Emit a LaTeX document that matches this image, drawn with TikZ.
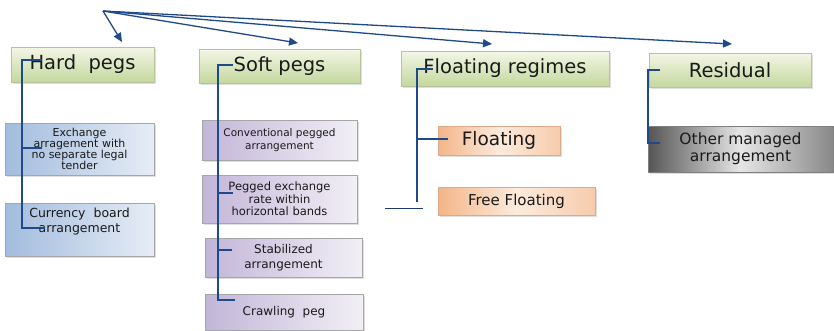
\documentclass[tikz,border=0pt]{standalone}
\usepackage{fontspec}
\setmainfont{DejaVu Sans}
\usetikzlibrary{arrows.meta,shadows}
\definecolor{lineblue}{HTML}{1F4A8A}
\definecolor{gL}{HTML}{F3F6E6}
\definecolor{gD}{HTML}{C4D89E}
\definecolor{gB}{HTML}{B7C39D}
\definecolor{bL}{HTML}{E6EDF6}
\definecolor{bD}{HTML}{A3BCDD}
\definecolor{pL}{HTML}{F2EFF6}
\definecolor{pD}{HTML}{C2B6D8}
\definecolor{oL}{HTML}{FDEBDD}
\definecolor{oD}{HTML}{F3B588}
\definecolor{kL}{HTML}{E6E6E6}
\definecolor{kD}{HTML}{555555}
\definecolor{txt}{HTML}{1A1A1A}
\tikzset{
  box/.style={rectangle, inner sep=0pt, align=center, text=txt,
    drop shadow={shadow xshift=1.5pt, shadow yshift=-1.5pt, opacity=0.25, fill=gray}},
  greenbox/.style={box, draw=gB, top color=gL, bottom color=gD, font=\fontsize{19.5}{22}\selectfont},
  bluebox/.style={box, draw=gray!70, left color=bD, right color=bL},
  purplebox/.style={box, draw=gray!70, left color=pD, right color=pL},
  orangebox/.style={box, draw=oD!80!gray, left color=oD, right color=oD!70, middle color=oL},
  graybox/.style={box, draw=gray, left color=kD, right color=kD!70, middle color=kL},
  conn/.style={draw=lineblue, line width=1.8pt},
  arr/.style={draw=lineblue, line width=1.3pt, -{Triangle[length=9pt,width=8pt]}},
}
\begin{document}
\begin{tikzpicture}[x=1pt,y=-1pt]
\useasboundingbox (0,0) rectangle (834,330);
% level 1
\node[greenbox, minimum width=143pt, minimum height=35pt] (hard) at (82.5,64.5) {Hard\ \ pegs};
\node[greenbox, minimum width=161pt, minimum height=34pt] (soft) at (279.5,66) {Soft pegs};
\node[greenbox, minimum width=208pt, minimum height=35pt] (floatreg) at (505,68.5) {Floating regimes};
\node[greenbox, minimum width=162pt, minimum height=34pt] (resid) at (730,70) {Residual};
% hard pegs children
\node[bluebox, minimum width=149pt, minimum height=52pt, font=\fontsize{11}{11}\selectfont] (exch) at (79.5,149) {Exchange\\arragement with\\no separate legal\\tender};
\node[bluebox, minimum width=149pt, minimum height=53pt, font=\fontsize{12.5}{15}\selectfont] (curr) at (79.5,230) {Currency\ \ board\\arrangement\\[4pt]};
% soft pegs children
\node[purplebox, minimum width=155pt, minimum height=40pt, font=\fontsize{10.5}{13}\selectfont] (conv) at (279.5,140) {Conventional pegged\\arrangement};
\node[purplebox, minimum width=155pt, minimum height=48pt, font=\fontsize{11.5}{12.5}\selectfont] (pegged) at (279.5,199) {Pegged exchange\\rate within\\horizontal bands};
\node[purplebox, minimum width=157pt, minimum height=39pt, font=\fontsize{12}{14.5}\selectfont] (stab) at (283.5,257.5) {Stabilized\\arrangement};
\node[purplebox, minimum width=158pt, minimum height=36pt, font=\fontsize{12}{14}\selectfont] (crawl) at (284,312) {Crawling\ \ peg};
% floating children
\node[orangebox, minimum width=122pt, minimum height=29pt, font=\fontsize{18.5}{21}\selectfont] (floating) at (499,140.5) {Floating};
\node[orangebox, minimum width=157pt, minimum height=28pt, font=\fontsize{15}{17}\selectfont] (free) at (516.5,201) {Free Floating};
% residual child
\node[graybox, minimum width=185pt, minimum height=46pt, font=\fontsize{15.5}{17}\selectfont] (other) at (740.5,149) {Other managed\\arrangement};
% arrows from the top
\coordinate (src) at (103,11);
\coordinate (tHard) at (122,42);
\coordinate (tSoft) at (298,43);
\coordinate (tFloat) at (492,44);
\coordinate (tResid) at (732,44);
\draw[arr] (src) -- (tHard);
\draw[arr] (src) -- (tSoft);
\draw[arr] (src) -- (tFloat);
\draw[arr] (src) -- (tResid);
% hard pegs bracket
\coordinate (h0) at (42,60);
\coordinate (h1) at (42,148);
\coordinate (h2) at (45,228);
\draw[conn] (h0) -- (22,60) -- (22,228) -- (h2);
\draw[conn] (22,148) -- (h1);
% soft pegs bracket
\coordinate (s0) at (233,65);
\coordinate (s1) at (233,193);
\coordinate (s2) at (232,250);
\coordinate (s3) at (235,300);
\draw[conn] (s0) -- (218,65) -- (218,300) -- (s3);
\draw[conn] (218,193) -- (s1);
\draw[conn] (218,250) -- (s2);
% floating regimes bracket
\coordinate (f0) at (433,69);
\coordinate (f1) at (448,139);
\coordinate (f2) at (417,202);
\draw[conn] (f0) -- (417,69) -- (f2);
\draw[conn] (417,139) -- (f1);
\coordinate (stA) at (385,208);
\coordinate (stB) at (423,208);
\draw[draw=lineblue!80!black, line width=1pt] (stA) -- (stB);
% residual bracket
\coordinate (r0) at (660,70);
\coordinate (r1) at (660,143);
\draw[conn] (r0) -- (648,70) -- (648,143) -- (r1);
\end{tikzpicture}
\end{document}
